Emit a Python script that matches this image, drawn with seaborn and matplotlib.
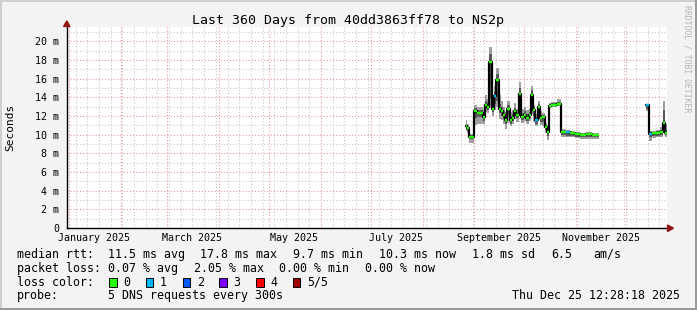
import numpy as np
import pandas as pd
import matplotlib
matplotlib.use("Agg")
import matplotlib.pyplot as plt
import matplotlib.dates as mdates
import matplotlib.ticker as mticker
import matplotlib.transforms as mtransforms
from matplotlib.patches import Rectangle, Polygon
import seaborn as sns

# ---------------- data ----------------
dates = [
    "2025-08-27 00:00", "2025-08-27 21:00", "2025-08-29 00:00", "2025-08-31 22:00",
    "2025-09-02 12:00", "2025-09-06 03:00", "2025-09-07 12:00", "2025-09-08 21:00",
    "2025-09-10 02:00", "2025-09-11 12:00", "2025-09-13 02:00", "2025-09-14 02:00",
    "2025-09-15 12:00", "2025-09-16 22:00", "2025-09-18 03:00", "2025-09-19 12:00",
    "2025-09-20 21:00", "2025-09-22 02:00", "2025-09-23 12:00", "2025-09-24 22:00",
    "2025-09-26 02:00", "2025-09-27 12:00", "2025-09-28 22:00", "2025-09-30 12:00",
    "2025-10-02 02:00", "2025-10-03 12:00", "2025-10-05 02:00", "2025-10-06 03:00",
    "2025-10-07 12:00", "2025-10-08 21:00", "2025-10-10 02:00", "2025-10-11 12:00",
    "2025-10-13 02:00", "2025-10-14 12:00", "2025-10-15 12:00", "2025-10-17 02:00",
    "2025-10-20 12:00", "2025-10-22 22:00", "2025-10-26 02:00", "2025-10-28 12:00",
    "2025-10-31 12:00", "2025-11-03 12:00", "2025-11-07 02:00", "2025-11-10 17:00",
    "2025-11-14 12:00",
    "2025-12-13 03:00", "2025-12-14 12:00", "2025-12-16 13:00", "2025-12-19 03:00",
    "2025-12-21 12:00", "2025-12-23 02:00", "2025-12-24 12:00", "2025-12-25 12:28",
]
nan = float("nan")
median_ms = [
    10.9, 10.7, 9.8, 12.5, 12.35, 11.9, 13.2, 13.0,
    17.8, 12.8, 14.1, 15.9, 12.8, 12.5, 12.1, 11.6,
    12.8, 11.6, 11.8, 12.5, 12.1, 14.4, 11.9, 12.1,
    11.8, 12.1, 14.3, 12.6, 11.6, 13.0, 11.8, 11.9,
    10.8, 10.3, 13.1, 13.2, 13.3, 10.3, 10.3, 10.2,
    10.1, 10.0, 10.1, 10.0, nan,
    13.2, 10.1, 10.2, 10.2, 10.3, 11.3, 10.2, nan,
]
loss = [
    0, 0, 0, 0, 0, 0, 0, 0,
    0, 0, 1, 0, 0, 0, 0, 0,
    0, 0, 0, 0, 0, 0, 0, 0,
    0, 0, 0, 0, 1, 0, 0, 0,
    0, 0, 0, 0, 0, 0, 1, 0,
    0, 0, 0, 0, 0,
    1, 1, 0, 0, 0, 0, 0, 0,
]
smoke_lo = [
    10.4, 10.2, 9.1, 11.0, 11.2, 11.1, 12.4, 12.3,
    13.0, 12.0, 12.7, 13.0, 11.7, 11.6, 11.2, 10.6,
    11.3, 10.9, 11.2, 11.7, 11.4, 12.0, 11.3, 11.5,
    11.2, 11.5, 12.2, 11.4, 10.9, 11.8, 11.0, 10.9,
    10.2, 9.4, 12.9, 13.0, 13.1, 9.8, 9.7, 9.7,
    9.6, 9.5, 9.5, 9.5, nan,
    12.5, 9.3, 9.6, 9.7, 9.8, 10.3, 9.8, nan,
]
smoke_hi = [
    11.6, 11.2, 10.1, 13.2, 13.0, 12.8, 14.3, 13.8,
    19.4, 13.8, 15.2, 17.1, 14.3, 13.6, 13.0, 12.4,
    13.6, 12.4, 12.6, 13.4, 12.8, 15.7, 12.8, 13.0,
    12.6, 12.8, 15.2, 13.2, 12.2, 13.6, 12.5, 12.3,
    11.3, 10.8, 13.4, 13.5, 13.8, 10.6, 10.5, 10.4,
    10.3, 10.2, 10.3, 10.2, nan,
    13.3, 10.4, 10.4, 10.5, 10.8, 13.6, 11.2, nan,
]
core_lo = [
    10.7, 10.4, 9.5, 11.8, 11.9, 11.5, 12.8, 12.7,
    13.8, 12.4, 13.3, 13.6, 12.3, 12.0, 11.7, 11.1,
    12.0, 11.2, 11.5, 12.1, 11.8, 12.6, 11.6, 11.8,
    11.5, 11.8, 12.8, 12.0, 11.2, 12.3, 11.4, 11.4,
    10.5, 9.9, 13.0, 13.1, 13.2, 10.0, 9.9, 9.9,
    9.8, 9.7, 9.8, 9.7, nan,
    12.8, 9.7, 9.9, 9.9, 10.0, 10.8, 10.0, nan,
]
core_hi = [
    11.2, 10.9, 10.0, 12.9, 12.7, 12.3, 13.6, 13.4,
    18.6, 13.2, 14.6, 16.5, 13.3, 13.0, 12.5, 12.0,
    13.2, 12.0, 12.2, 12.9, 12.4, 15.0, 12.3, 12.5,
    12.2, 12.4, 14.8, 13.0, 11.9, 13.3, 12.1, 12.1,
    11.0, 10.5, 13.3, 13.4, 13.5, 10.4, 10.4, 10.3,
    10.2, 10.1, 10.2, 10.1, nan,
    13.3, 10.3, 10.3, 10.4, 10.5, 12.6, 10.5, nan,
]
loss_colors = ["#26ff00", "#00b8ff", "#0059ff", "#7e00ff", "#ff0000", "#a00000"]
loss_labels = ["0", "1", "2", "3", "4", "5/5"]

x_start = "2024-12-30 12:28:18"
x_end = "2025-12-25 12:28:18"
month_labels = ["January 2025", "March 2025", "May 2025", "July 2025",
                "September 2025", "November 2025"]
month_label_dates = ["2025-01-16", "2025-03-16", "2025-05-16", "2025-07-16",
                     "2025-09-16", "2025-11-16"]

title = "Last 360 Days from 40dd3863ff78 to NS2p"
ylabel = "Seconds"
legend_rows = [
    [("median rtt:", 16.7), ("11.5 ms avg", 107.5), ("17.8 ms max", 200.5),
     ("9.7 ms min", 293.3), ("10.3 ms now", 379.3), ("1.8 ms sd", 472.3),
     ("6.5", 551.0), ("am/s", 593.3)],
    [("packet loss:", 16.7), ("0.07 % avg", 107.5), ("2.05 % max", 194.5),
     ("0.00 % min", 279.3), ("0.00 % now", 365.0)],
    [("loss color:", 16.7)],
    [("probe:", 16.7), ("5 DNS requests every 300s", 107.5)],
]
legend_baselines = [257.7, 271.7, 285.7, 299.3]
timestamp = "Thu Dec 25 12:28:18 2025"

# ---------------- figure ----------------
W, H = 697, 310
sns.set_style("white")
plt.rcParams["font.family"] = ["DejaVu Sans Mono", "DejaVu Sans"]
plt.rcParams["lines.scale_dashes"] = False
BG = "#f3f3f3"
fig = plt.figure(figsize=(W / 100, H / 100), dpi=100, facecolor=BG)

def fx(x):
    return x / W

def fy(y):
    return 1 - y / H

ax_l, ax_r, ax_t, ax_b = 66.6, 667.0, 27.0, 228.0
ax = fig.add_axes([fx(ax_l), fy(ax_b), (ax_r - ax_l) / W, (ax_b - ax_t) / H])
ax.set_facecolor("white")

df = pd.DataFrame({
    "date": pd.to_datetime(dates),
    "median": median_ms,
    "loss": loss,
    "lo": smoke_lo,
    "hi": smoke_hi,
    "clo": core_lo,
    "chi": core_hi,
})
df["seg"] = (df["median"].isna().shift(1, fill_value=False)).cumsum()

xnum = mdates.date2num(df["date"].to_numpy())
widths = np.diff(xnum)
valid = ~df["median"].isna().to_numpy()[:-1]
xs = df["date"].to_numpy()[:-1][valid]
wd = widths[valid]
lo = df["lo"].to_numpy()[:-1][valid]
hi = df["hi"].to_numpy()[:-1][valid]
clo = df["clo"].to_numpy()[:-1][valid]
chi = df["chi"].to_numpy()[:-1][valid]

# smoke
ax.bar(xs, hi - lo, bottom=lo, width=wd, align="edge", color="#a0a0a0",
       linewidth=0, zorder=2)
ax.bar(xs, chi - clo, bottom=clo, width=wd, align="edge", color="#585858",
       linewidth=0, zorder=2.1)

# median line (black) through seaborn
sns.lineplot(data=df.dropna(subset=["median"]), x="date", y="median",
             units="seg", estimator=None, color="black", linewidth=1.6,
             drawstyle="steps-post", ax=ax, zorder=3)

# loss-coloured median segments
ends = df["date"].to_numpy()[1:][valid]
meds = df["median"].to_numpy()[:-1][valid]
lcol = [loss_colors[int(v)] for v in df["loss"].to_numpy()[:-1][valid]]
ax.hlines(meds, xs, ends, colors=lcol, linewidth=1.7, zorder=4)

# axes ranges
ax.set_xlim(pd.Timestamp(x_start), pd.Timestamp(x_end))
ax.set_ylim(0, (ax_b - ax_t) / 9.33)
ax.set_xlabel("")
ax.set_ylabel("")

# grid
ax.xaxis.set_major_locator(mdates.MonthLocator())
ax.xaxis.set_minor_locator(mdates.WeekdayLocator(byweekday=mdates.SU))
ax.yaxis.set_major_locator(mticker.MultipleLocator(2))
ax.yaxis.set_minor_locator(mticker.MultipleLocator(1))
ax.grid(which="minor", color="#c4c4c4", linestyle=(0, (0.75, 1.5)), linewidth=0.75)
ax.grid(which="major", color="#ec8f8f", linestyle=(0, (0.75, 1.5)), linewidth=0.75)
ax.set_axisbelow(True)

ax.yaxis.set_major_formatter(mticker.FuncFormatter(
    lambda v, p: "0" if v == 0 else f"{v:.0f} m"))
ax.tick_params(axis="x", which="major", length=2.5, color="#d05050",
               labelbottom=False, width=0.7)
ax.tick_params(axis="x", which="minor", length=2.0, color="#b0b0b0", width=0.7)
ax.tick_params(axis="y", which="major", length=3, color="#606060", width=0.8,
               pad=2.4, labelsize=7.2, labelcolor="black")
ax.tick_params(axis="y", which="minor", length=0)

for lab, d in zip(month_labels, month_label_dates):
    ax.text(pd.Timestamp(d), -(241.3 - ax_b) / (ax_b - ax_t), lab,
            transform=mtransforms.blended_transform_factory(ax.transData, ax.transAxes),
            ha="center", va="baseline", fontsize=7.2, color="black")

for s in ["top", "right"]:
    ax.spines[s].set_visible(False)
for s in ["left", "bottom"]:
    ax.spines[s].set_color("black")
    ax.spines[s].set_linewidth(1.0)
    ax.spines[s].set_zorder(5)

# arrows
arrow_col = "#8e1616"
fig.add_artist(Polygon([(fx(667.5), fy(225.0)), (fx(667.5), fy(231.5)), (fx(673.5), fy(228.2))],
                       closed=True, transform=fig.transFigure, color=arrow_col, zorder=6))
fig.add_artist(Polygon([(fx(63.6), fy(26.5)), (fx(70.0), fy(26.5)), (fx(66.8), fy(20.8))],
                       closed=True, transform=fig.transFigure, color=arrow_col, zorder=6))

# title, labels
fig.text(fx(347.7), fy(24.0), title, ha="center", va="baseline", fontsize=9.5,
         color="black")
fig.text(fx(10.3), fy(127.5), ylabel, ha="center", va="center", rotation=90,
         fontsize=8.0, color="black")
fig.text(fx(687.3), fy(58.5), "RRDTOOL / TOBI OETIKER", ha="center", va="center",
         rotation=270, fontsize=5.9, color="#b4b4b4")

# legend rows
for row, base in zip(legend_rows, legend_baselines):
    for txt, x in row:
        fig.text(fx(x), fy(base), txt, ha="left", va="baseline", fontsize=8.4,
                 color="black")

box_x0 = 109.3
box_step = 36.7
for i, (c, lab) in enumerate(zip(loss_colors, loss_labels)):
    bx = box_x0 + i * box_step
    fig.add_artist(Rectangle((fx(bx), fy(286.5)), 7.4 / W, 9.0 / H,
                             transform=fig.transFigure, facecolor=c,
                             edgecolor="black", linewidth=0.7))
    fig.text(fx(bx + 14.0), fy(legend_baselines[2]), lab, ha="left",
             va="baseline", fontsize=8.4, color="black")

fig.text(fx(680.5), fy(legend_baselines[3]), timestamp, ha="right",
         va="baseline", fontsize=8.4, color="black")

# frame (3D shade like rrdtool)
fig.add_artist(Rectangle((0, 0), 2 / W, 1, transform=fig.transFigure,
                         color="#cfcfcf", linewidth=0))
fig.add_artist(Rectangle((0, 1 - 2 / H), 1, 2 / H, transform=fig.transFigure,
                         color="#cfcfcf", linewidth=0))
fig.add_artist(Rectangle((1 - 2.5 / W, 0), 2.5 / W, 1, transform=fig.transFigure,
                         color="#9a9a9a", linewidth=0))
fig.add_artist(Rectangle((0, 0), 1, 2.5 / H, transform=fig.transFigure,
                         color="#9a9a9a", linewidth=0))

fig.savefig("out.png", dpi=100, facecolor=BG)
